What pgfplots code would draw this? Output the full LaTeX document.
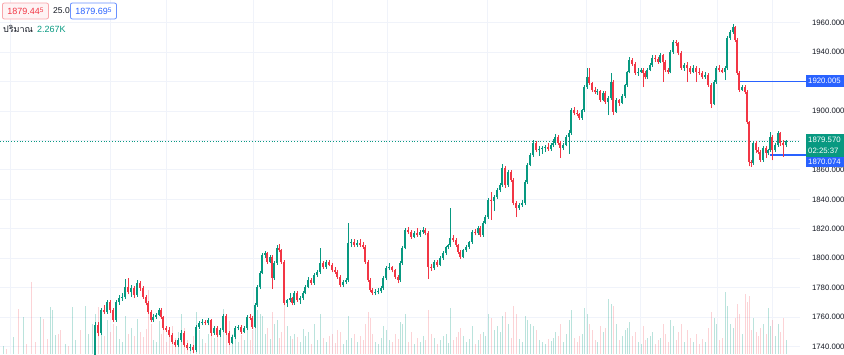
\documentclass[border=0pt]{standalone}
\usepackage{pgfplots}
\pgfplotsset{compat=1.18}
\usepackage{pgfplotstable}
\usepackage{fontspec}
\setmainfont{Liberation Sans}
\newfontfamily\thaifont[Script=Thai]{Loma}
\definecolor{up}{HTML}{089981}
\definecolor{dn}{HTML}{F23645}
\definecolor{tvblue}{HTML}{2962FF}
\definecolor{txt}{HTML}{131722}
\definecolor{gridc}{HTML}{F0F3FA}

\pgfplotstableread{
x o h l c v
95 1730 1757 1728 1754.7 40
98 1754.7 1756.5 1747 1749.3 47
101 1749.3 1766.5 1748 1764.9 42
104 1764.9 1768 1762 1763.6 18
107 1763.6 1772 1762.5 1770.3 34
110 1770.3 1771.5 1763 1764.9 22
113 1764.9 1766 1756.5 1758.1 30
116 1758.1 1771.5 1757 1770.3 28
119 1770.3 1775 1768.5 1773.1 15
122 1773.1 1776.5 1771 1773.7 12
125 1773.7 1786 1772.5 1780.5 38
128 1780.5 1786.5 1775.5 1777.1 20
131 1777.1 1782 1774 1779.8 26
134 1779.8 1781 1773 1775.1 18
137 1775.1 1785.5 1774 1783.2 35
140 1783.2 1784.5 1778 1779.8 22
143 1779.8 1781 1772.5 1773.7 17
146 1773.7 1775 1768 1769.7 25
148 1769.7 1771 1762.5 1763.6 64
151 1763.6 1765 1756.5 1758.1 30
153 1758.1 1762 1757 1760.2 14
156 1760.2 1763 1759 1761.5 12
159 1761.5 1766.5 1760.5 1764.9 33
161 1764.9 1766 1759 1760.2 20
163 1760.2 1761 1751.5 1752.7 36
166 1752.7 1754 1750 1751.3 12
169 1751.3 1753 1746.5 1747.9 24
172 1747.9 1749 1742 1743.2 28
175 1743.2 1744.5 1739.5 1741.1 16
178 1741.1 1746 1740 1744.5 22
181 1744.5 1751 1743 1749.3 40
184 1749.3 1750.5 1740 1741.1 26
187 1741.1 1742.5 1737.5 1739.1 14
190 1739.1 1741.5 1737 1739.8 10
193 1739.8 1741 1736 1737.7 18
196 1737.7 1755 1736.5 1753.4 42
199 1753.4 1757.5 1752 1756.1 24
202 1756.1 1758.5 1754.5 1756.8 15
205 1756.8 1758 1755 1756.1 11
208 1756.1 1759.5 1754.5 1758.1 20
211 1758.1 1759 1747.5 1749.3 30
214 1749.3 1754 1748 1752.7 16
217 1752.7 1754 1746.5 1747.9 22
220 1747.9 1752.5 1746.5 1751.3 18
223 1751.3 1762 1750 1760.8 45
226 1760.8 1762 1748 1749.3 38
229 1749.3 1750.5 1741 1742.5 33
232 1742.5 1748 1741.5 1746.6 20
235 1746.6 1754 1745.5 1752.7 27
238 1752.7 1755 1751 1753.4 12
241 1753.4 1754.5 1748.5 1750 19
244 1750 1754 1749 1752.7 14
247 1752.7 1761.5 1751.5 1760.2 36
250 1760.2 1762 1758 1759.5 14
252 1759.5 1761 1752 1753.4 24
255 1753.4 1769.5 1752.5 1768.3 50
257 1768.3 1782 1767 1780.5 44
260 1780.5 1791.5 1779 1790 40
262 1790 1803.5 1789 1802.3 38
265 1802.3 1805 1800.5 1803.6 20
267 1803.6 1804.5 1796 1797.5 26
270 1797.5 1802 1796.5 1800.9 15
272 1800.9 1802 1779 1786.6 42
274 1786.6 1798 1785.5 1796.8 30
277 1796.8 1809 1795.5 1807 34
279 1807 1809.5 1804 1805.6 16
281 1805.6 1806.5 1796 1797.5 22
284 1797.5 1798.5 1768 1769.7 52
287 1769.7 1772.5 1767 1771.7 28
290 1771.7 1776.5 1770 1773.1 18
292 1773.1 1774 1768 1769.7 15
294 1769.7 1777.5 1768.5 1776.5 20
297 1776.5 1777.5 1770.5 1771.7 17
300 1771.7 1774.5 1769 1773.1 12
303 1773.1 1777.5 1772 1776.5 25
305 1776.5 1782 1775.5 1780.5 18
308 1780.5 1787 1779.5 1785.3 22
311 1785.3 1786.5 1782 1783.2 10
314 1783.2 1790 1782 1788.7 30
317 1788.7 1792 1787.5 1790.7 14
320 1790.7 1807 1789.5 1796.8 40
323 1796.8 1798 1793 1794.1 16
326 1794.1 1799 1793 1797.5 12
329 1797.5 1799 1794.5 1795.5 18
332 1795.5 1797 1790.5 1792.1 20
335 1792.1 1794 1789.5 1790.7 11
337 1790.7 1792 1786 1787.3 24
340 1787.3 1788.5 1780.5 1781.9 22
343 1781.9 1785 1780.5 1783.9 10
346 1783.9 1786.5 1782.5 1785.3 14
348 1785.3 1824 1784 1810.4 38
351 1810.4 1813 1807.5 1811.1 16
354 1811.1 1813 1807.5 1809 20
357 1809 1812.5 1807.5 1810.4 12
360 1810.4 1813 1808 1809 18
363 1809 1811 1806 1807.7 14
365 1807.7 1809 1796 1797.5 30
368 1797.5 1798.5 1784 1785.3 42
370 1785.3 1786.5 1777 1778.5 36
372 1778.5 1780 1775 1776.5 20
375 1776.5 1779 1775 1777.1 12
378 1777.1 1780 1775.5 1778 10
381 1778 1781.5 1776.5 1779.8 16
383 1779.8 1788 1778.5 1786.6 28
386 1786.6 1794.5 1785.5 1793.4 24
389 1793.4 1797 1792 1794.1 14
392 1794.1 1795 1790.5 1792.1 12
395 1792.1 1793 1786 1787.3 20
398 1787.3 1788.5 1783 1785.3 15
400 1785.3 1798 1784 1796.8 32
402 1796.8 1808.5 1795.5 1807 30
405 1807 1820.5 1806 1819.2 40
408 1819.2 1821 1816.5 1817.9 12
411 1817.9 1819 1813 1814.5 22
414 1814.5 1818.5 1813.5 1817.2 10
417 1817.2 1820.5 1814.5 1815.8 16
420 1815.8 1819 1814.5 1817.9 12
423 1817.9 1821 1816.5 1819.2 18
425 1819.2 1820.5 1815.5 1817.2 14
428 1817.2 1818.5 1786 1794.1 44
431 1794.1 1796 1791.5 1793.4 20
434 1793.4 1798.5 1792 1797.5 16
437 1797.5 1799 1794 1795.5 10
440 1795.5 1801.5 1794.5 1800.2 14
443 1800.2 1805 1799 1803.6 18
446 1803.6 1808.5 1802.5 1807.7 20
448 1807.7 1810 1806 1809 11
450 1809 1834 1808 1813.8 46
453 1813.8 1815.5 1811 1812.4 14
456 1812.4 1813.5 1808 1809 17
458 1809 1810 1803 1804.3 22
460 1804.3 1805.5 1799.5 1800.9 26
463 1800.9 1806.5 1800 1805.6 18
466 1805.6 1809 1804.5 1807.7 12
469 1807.7 1812 1806.5 1811.1 15
472 1811.1 1819 1810 1817.9 28
475 1817.9 1820 1815.5 1817 10
478 1817 1822 1816 1820.6 14
480 1820.6 1822 1814.5 1815.8 20
483 1815.8 1825.5 1814.5 1824 22
485 1824 1829.5 1823 1828.1 18
488 1828.1 1841 1827 1839.6 40
491 1839.6 1845 1826 1839 36
494 1839 1843 1832 1841.6 24
497 1841.6 1848 1840.5 1846.4 28
500 1846.4 1851 1845 1849.8 22
502 1849.8 1864 1848.5 1861.3 38
505 1861.3 1862.5 1848 1849.8 42
508 1849.8 1860 1848.5 1858.6 30
511 1858.6 1860 1852 1853.2 16
513 1853.2 1854.5 1836 1837.6 48
516 1837.6 1839 1828 1834.2 40
519 1834.2 1837.5 1833 1836.2 15
522 1836.2 1839.5 1835 1837.6 12
525 1837.6 1853 1836.5 1851.8 38
527 1851.8 1864.5 1850.5 1863.4 34
530 1863.4 1871.5 1862.5 1870.2 30
533 1870.2 1880 1869 1878.3 28
536 1878.3 1879.5 1872 1873.5 24
539 1873.5 1876 1869.5 1874.2 14
542 1874.2 1876.5 1871 1874.9 12
545 1874.9 1877 1872.5 1875.6 10
548 1875.6 1878 1873 1874.2 15
551 1874.2 1878.5 1873 1876.9 13
553 1876.9 1881 1875.5 1878.3 16
555 1878.3 1884.5 1877 1882.4 22
558 1882.4 1884 1877 1878.3 18
560 1878.3 1879.5 1868 1874.9 30
563 1874.9 1878 1873.5 1876.9 12
566 1876.9 1884 1876 1882.4 20
569 1882.4 1887 1871 1885.1 34
571 1885.1 1902 1884 1900.7 44
574 1900.7 1902.5 1897 1898.7 16
577 1898.7 1901 1896.5 1898 12
579 1898 1899 1894 1895.3 18
582 1895.3 1901.5 1894 1900.7 20
584 1900.7 1917.5 1899.5 1916.3 46
587 1916.3 1929 1915 1923.1 40
589 1923.1 1929 1918 1919 30
592 1919 1920 1913 1914.3 24
595 1914.3 1916 1911.5 1912.9 14
597 1912.9 1915 1911 1913.5 12
600 1913.5 1914.5 1906 1907.5 28
603 1907.5 1913.5 1906.5 1912.3 22
605 1912.3 1913.5 1905 1906.1 26
608 1906.1 1910 1897.3 1908.9 55
611 1908.9 1925.5 1907.5 1919.7 50
613 1919.7 1921 1897.5 1899.4 48
616 1899.4 1909 1898.5 1907.5 30
619 1907.5 1908.5 1903.5 1905.5 14
622 1905.5 1911.5 1904.5 1910.2 18
625 1910.2 1918.5 1909 1917.7 24
627 1917.7 1927.5 1916.5 1926.5 26
629 1926.5 1937 1925.5 1934.7 32
632 1934.7 1936 1930.5 1931.9 18
635 1931.9 1933 1924.5 1925.8 22
638 1925.8 1929.5 1924 1926.5 12
641 1926.5 1929.5 1925.5 1927.9 10
643 1927.9 1929 1916.3 1925.8 28
645 1925.8 1927 1921.5 1923.1 14
647 1923.1 1929 1922 1927.9 16
650 1927.9 1932.5 1927 1931.3 18
652 1931.3 1938 1930 1936 22
655 1936 1938 1933.5 1935.5 10
658 1935.5 1937 1932 1933.3 14
660 1933.3 1939.5 1932.5 1938.1 16
663 1938.1 1939 1920 1933.3 30
665 1933.3 1934.5 1926.5 1927.9 20
668 1927.9 1929.5 1925 1926.5 12
670 1926.5 1941.5 1925.5 1940.1 34
673 1940.1 1948 1939 1946.9 28
676 1946.9 1948.5 1944 1946.2 14
678 1946.2 1947 1938 1939.4 22
681 1939.4 1940.5 1928 1929.2 30
684 1929.2 1932.5 1927.5 1931.3 12
687 1931.3 1933 1920 1929.2 24
690 1929.2 1930.5 1925 1926.5 16
693 1926.5 1931 1925.5 1929.2 12
696 1929.2 1930.5 1920 1926.5 20
699 1926.5 1929.5 1924.5 1925.8 10
702 1925.8 1927 1922 1923.1 15
705 1923.1 1926.5 1922 1924.5 12
708 1924.5 1925.5 1916.5 1917.7 26
711 1917.7 1919 1902 1904.8 42
714 1904.8 1921 1904 1919.7 36
716 1919.7 1930.5 1918.5 1929.2 30
719 1929.2 1931 1926.5 1927.9 14
722 1927.9 1929.5 1925.5 1926.5 16
725 1926.5 1930.5 1921 1929.2 62
727 1929.2 1951 1928 1949.6 48
730 1949.6 1955 1948.5 1953.7 30
733 1953.7 1959 1952.5 1957.1 26
735 1957.1 1958 1947 1948.2 36
737 1948.2 1949.5 1924.5 1925.8 50
739 1925.8 1927 1913 1914.3 40
742 1914.3 1918 1913.5 1916.3 20
745 1916.3 1917.5 1911.5 1912.9 60
747 1912.9 1914 1891 1892.6 52
749 1892.6 1893.5 1862.5 1865.4 58
751 1865.4 1867 1862 1864.7 24
753 1864.7 1879.5 1863.5 1878.3 36
756 1878.3 1879.5 1871.5 1873.5 22
758 1873.5 1875.5 1870.5 1872.2 18
760 1872.2 1873.5 1865.5 1866.8 26
763 1866.8 1876.5 1865.5 1874.9 30
766 1874.9 1876 1868 1871.5 20
768 1871.5 1874.5 1870 1873.5 46
770 1873.5 1886 1872.5 1882.4 28
772 1882.4 1884 1866.5 1873.5 34
775 1873.5 1878 1872 1876.9 18
778 1876.9 1886.5 1875.5 1885.1 30
780 1885.1 1886 1876.5 1878.3 22
783 1878.3 1880 1869 1876.9 36
786 1876.9 1880.5 1875.5 1879.6 14
}\candles

\begin{document}
\begin{tikzpicture}[x=1pt,y=1pt]
% grid and price scale
\begin{axis}[at={(0,0)},anchor=south west,width=800pt,height=354pt,scale only axis,
  xmin=0,xmax=800,ymin=1735,ymax=1975.4,
  axis line style={draw=none}, major tick length=0pt,
  xtick={10,110,166,253,332,387,487,586,640,717,772}, xticklabels={},
  ytick={1740,1760,1780,1800,1820,1840,1860,1900,1940,1960},
  extra y ticks={1880,1920}, extra y tick labels={},
  grid=major, grid style={gridc,line width=0.9pt},
  extra y tick style={grid=major},
  yticklabel pos=right,
  yticklabel style={anchor=west,inner sep=0pt,xshift=11.8pt,text=txt,font=\fontsize{7.8}{9}\selectfont,
    /pgf/number format/.cd,fixed,fixed zerofill,precision=3,1000 sep={},assume math mode=true}]
\addplot[draw=none] coordinates {(0,1800)};
\end{axis}
% volume
\begin{axis}[at={(0,0)},anchor=south west,width=800pt,height=354pt,scale only axis,
  xmin=0,xmax=800,ymin=0,ymax=354,hide axis]
\addplot[ycomb,draw=up,draw opacity=0.28,line width=1.0pt,line cap=butt] coordinates {(3,8)(13,17)(23,37)(40,37)(50,47)(52,44)(55,19)(65,10)(72,47)(75,14)(85,48)(88,20)(92,30)};
\addplot[ycomb,draw=dn,draw opacity=0.22,line width=1.0pt,line cap=butt] coordinates {(6,5)(18,45)(26,10)(31,72)(35,12)(43,35)(47,15)(58,20)(60,24)(68,8)(80,24)};
\addplot[ycomb,draw=up,draw opacity=0.28,line width=1.0pt,line cap=butt] table[x=x,y=v,restrict expr to domain={\thisrow{c}-\thisrow{o}}{0:1000}] {\candles};
\addplot[ycomb,draw=dn,draw opacity=0.22,line width=1.0pt,line cap=butt] table[x=x,y=v,restrict expr to domain={\thisrow{c}-\thisrow{o}}{-1000:0}] {\candles};
\end{axis}
% reference lines
\begin{axis}[at={(0,0)},anchor=south west,width=800pt,height=354pt,scale only axis,
  xmin=0,xmax=800,ymin=1735,ymax=1975.4,hide axis,clip=false]
\addplot[dotted,draw=up,line width=0.8pt] coordinates {(0,1879.57)(800,1879.57)};
\addplot[draw=tvblue,line width=1.8pt] coordinates {(738,1920.005)(806,1920.005)};
\addplot[draw=tvblue,line width=1.8pt] coordinates {(770,1870.074)(806,1870.074)};
\end{axis}
% candles
\begin{axis}[at={(0,0)},anchor=south west,width=800pt,height=354pt,scale only axis,
  xmin=0,xmax=800,ymin=1735,ymax=1975.4,hide axis]
\addplot[-,draw=up,line width=0.7pt,quiver={u=0,v=\thisrow{h}-\thisrow{l}}] table[x=x,y=l,restrict expr to domain={\thisrow{c}-\thisrow{o}}{0:1000}] {\candles};
\addplot[-,draw=dn,line width=0.7pt,quiver={u=0,v=\thisrow{h}-\thisrow{l}}] table[x=x,y=l,restrict expr to domain={\thisrow{c}-\thisrow{o}}{-1000:0}] {\candles};
\addplot[-,draw=up,line width=2.2pt,line cap=butt,quiver={u=0,v=\thisrow{c}-\thisrow{o}}] table[x=x,y=o,restrict expr to domain={\thisrow{c}-\thisrow{o}}{0:1000}] {\candles};
\addplot[-,draw=dn,line width=2.2pt,line cap=butt,quiver={u=0,v=\thisrow{c}-\thisrow{o}}] table[x=x,y=o,restrict expr to domain={\thisrow{c}-\thisrow{o}}{-1000:0}] {\candles};
\end{axis}
% price labels on the scale
\fill[tvblue] (806,278.5) rectangle (846,267);
\node[anchor=west,text=white,inner sep=0pt,font=\fontsize{7.8}{9}\selectfont] at (808,272.7) {1920.005};
\fill[up] (806,219.5) rectangle (846,197);
\node[anchor=west,text=white,inner sep=0pt,font=\fontsize{7.8}{9}\selectfont] at (808,213.7) {1879.570};
\node[anchor=west,text=white,inner sep=0pt,font=\fontsize{7.8}{9}\selectfont] at (808,202.7) {02:25:37};
\fill[tvblue] (806,197) rectangle (846,186.5);
\node[anchor=west,text=white,inner sep=0pt,font=\fontsize{7.8}{9}\selectfont] at (808,191.8) {1870.074};
% top-left legend
\node[draw=dn!45,fill=dn!6,rounded corners=2pt,line width=0.8pt,text=dn,font=\fontsize{9}{10}\selectfont,
  anchor=west,minimum height=16pt,inner xsep=5pt] at (2,343) {1879.44\raisebox{0.5ex}{\fontsize{6.5}{7}\selectfont 5}};
\node[anchor=west,text=txt,font=\fontsize{8.5}{9}\selectfont,inner sep=0pt] at (53,343) {25.0};
\node[draw=tvblue!70,fill=white,rounded corners=2pt,line width=0.8pt,text=tvblue,font=\fontsize{9}{10}\selectfont,
  anchor=west,minimum height=16pt,inner xsep=5pt] at (70,343) {1879.69\raisebox{0.5ex}{\fontsize{6.5}{7}\selectfont 5}};
\node[anchor=west,text=txt,font=\thaifont\fontsize{9}{10}\selectfont,inner sep=0pt] at (3,325) {ปริมาณ};
\node[anchor=west,text=up,font=\fontsize{9}{10}\selectfont,inner sep=0pt] at (37,325) {2.267K};
\pgfresetboundingbox
\path[use as bounding box] (0,0) rectangle (844,354);
\end{tikzpicture}
\end{document}
